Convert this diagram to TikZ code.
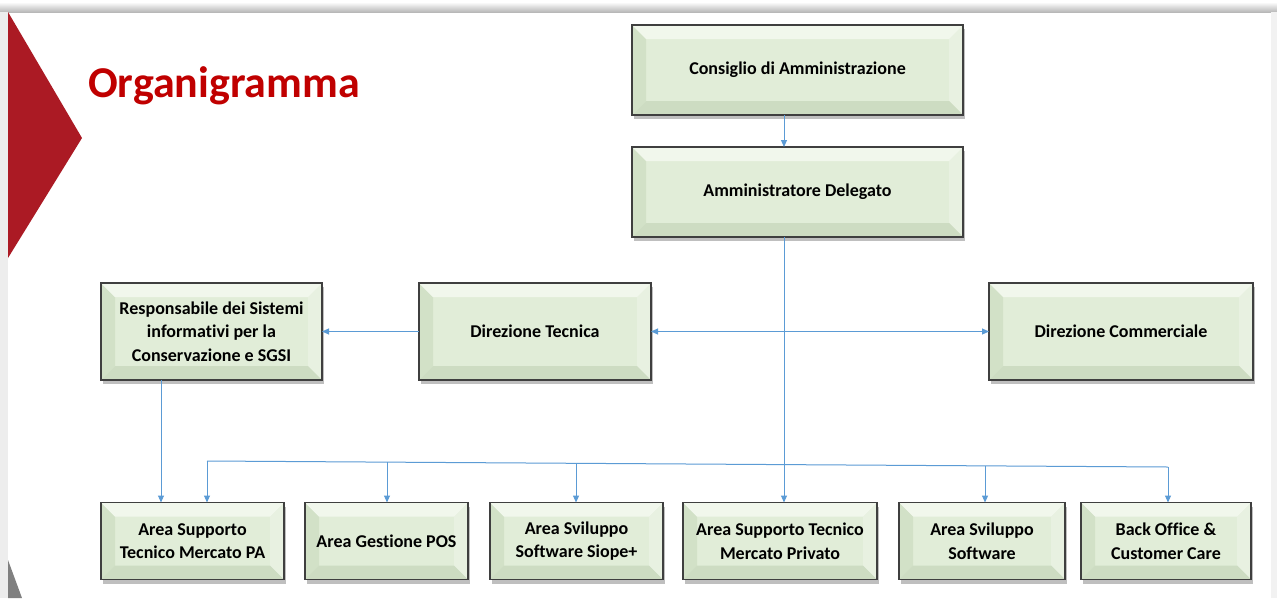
\documentclass[tikz,border=0pt]{standalone}
\usepackage{fontspec}
\setmainfont{Carlito}[Ligatures=NoCommon]
\usepackage{tikz}
\usetikzlibrary{arrows.meta, positioning, calc, shadows}
\definecolor{slidered}{HTML}{AB1A24}
\definecolor{titlered}{HTML}{C00000}
\definecolor{linkblue}{HTML}{5B9BD5}
\definecolor{boxline}{HTML}{3F3F3F}
\definecolor{boxface}{HTML}{E1EDD8}
\definecolor{bevtop}{HTML}{F1F7EC}
\definecolor{bevleft}{HTML}{D2E1C7}
\definecolor{bevright}{HTML}{E8F1E1}
\definecolor{bevbottom}{HTML}{CDDCC2}
\tikzset{
  orgbox/.style={rectangle, draw=boxline, line width=1.5pt, fill=boxface, align=center, inner sep=0pt, outer sep=0pt,
    font=\bfseries\fontsize{18}{23.5}\selectfont,
    drop shadow={shadow xshift=2pt, shadow yshift=-4pt, fill=black, opacity=0.25},
    path picture={
      \path (path picture bounding box.north west) coordinate (bnw)
            (path picture bounding box.north east) coordinate (bne)
            (path picture bounding box.south west) coordinate (bsw)
            (path picture bounding box.south east) coordinate (bse);
      \fill[bevleft] (bnw) -- (bsw) -- ([shift={(14pt,14pt)}]bsw) -- ([shift={(14pt,-14pt)}]bnw) -- cycle;
      \fill[bevright] (bne) -- (bse) -- ([shift={(-14pt,14pt)}]bse) -- ([shift={(-14pt,-14pt)}]bne) -- cycle;
      \fill[bevtop] (bnw) -- (bne) -- ([shift={(-14pt,-14pt)}]bne) -- ([shift={(14pt,-14pt)}]bnw) -- cycle;
      \fill[bevbottom] (bsw) -- (bse) -- ([shift={(-14pt,14pt)}]bse) -- ([shift={(14pt,14pt)}]bsw) -- cycle;
    }},
  toprow/.style={orgbox, minimum width=331pt, minimum height=90pt},
  midrow/.style={orgbox, minimum height=97pt},
  lowrow/.style={orgbox, minimum height=77pt},
  link/.style={-{Triangle[length=7pt,width=6pt]}, draw=linkblue, line width=1pt},
  title/.style={font=\bfseries\fontsize{44}{50}\selectfont, text=titlered, inner sep=0pt},
}
\begin{document}
\begin{tikzpicture}[x=1pt, y=-1pt]
\useasboundingbox (0,0) rectangle (1277,598);
% slide background
\fill[white] (0,0) rectangle (1277,598);
\shade[top color=white, bottom color=black!28] (0,2) rectangle (1277,12);
\fill[black!7] (0,12) rectangle (8,598);
\fill[black!5] (1271,12) rectangle (1277,598);
\fill[slidered] (8,12) -- (82,138) -- (8,258) -- cycle;
\fill[black!50] (8,560) -- (22,598) -- (8,598) -- cycle;
\node[title, anchor=base west] (ttl) at (88,97) {Organigramma};

\node[toprow] (cda) at (797.5,70) {Consiglio di Amministrazione};
\node[toprow, below=32pt of cda] (ad) {Amministratore Delegato};
\node[midrow, minimum width=221pt] (resp) at (211.5,331.5) {Responsabile dei Sistemi\\informativi per la\\Conservazione e SGSI};
\node[midrow, minimum width=232pt, right=97pt of resp] (dt) {Direzione Tecnica};
\node[midrow, minimum width=264pt, right=338pt of dt] (dc) {Direzione Commerciale};
\node[lowrow, minimum width=183pt] (pa) at (192.5,541) {Area Supporto\\Tecnico Mercato PA};
\node[lowrow, minimum width=163pt, right=21pt of pa] (pos) {Area Gestione POS};
\node[lowrow, minimum width=173pt, right=22pt of pos] (siope) {Area Sviluppo\\Software Siope+};
\node[lowrow, minimum width=194pt, right=20pt of siope] (priv) {Area Supporto Tecnico\\Mercato Privato};
\node[lowrow, minimum width=166pt, right=22pt of priv] (svil) {Area Sviluppo\\Software};
\node[lowrow, minimum width=170pt, right=16pt of svil] (back) {Back Office \&\\Customer Care};

\coordinate (spine) at (784,0);
\coordinate (rd) at (161,0);
\coordinate (busL) at (207,461);
\coordinate (busR) at (1168,467);

\draw[link] (cda.south -| spine) -- (ad.north -| spine);
\draw[link] (ad.south -| spine) -- (priv.north -| spine);
\draw[link, {Triangle[length=7pt,width=6pt]}-{Triangle[length=7pt,width=6pt]}] (dt.east) -- (dc.west);
\draw[link] (dt.west) -- (resp.east);
\draw[link] (resp.south -| rd) -- (pa.north -| rd);
\draw[draw=linkblue, line width=1pt] (busL) -- (busR);
\draw[link] (busL) -- (busL |- pa.north);
\draw[link] ($(busL)!0.1873!(busR)$) coordinate (b1) -- (b1 |- pos.north);
\draw[link] ($(busL)!0.3840!(busR)$) coordinate (b2) -- (b2 |- siope.north);
\draw[link] ($(busL)!0.8096!(busR)$) coordinate (b3) -- (b3 |- svil.north);
\draw[link] (busR) -- (busR |- back.north);
\end{tikzpicture}
\end{document}
